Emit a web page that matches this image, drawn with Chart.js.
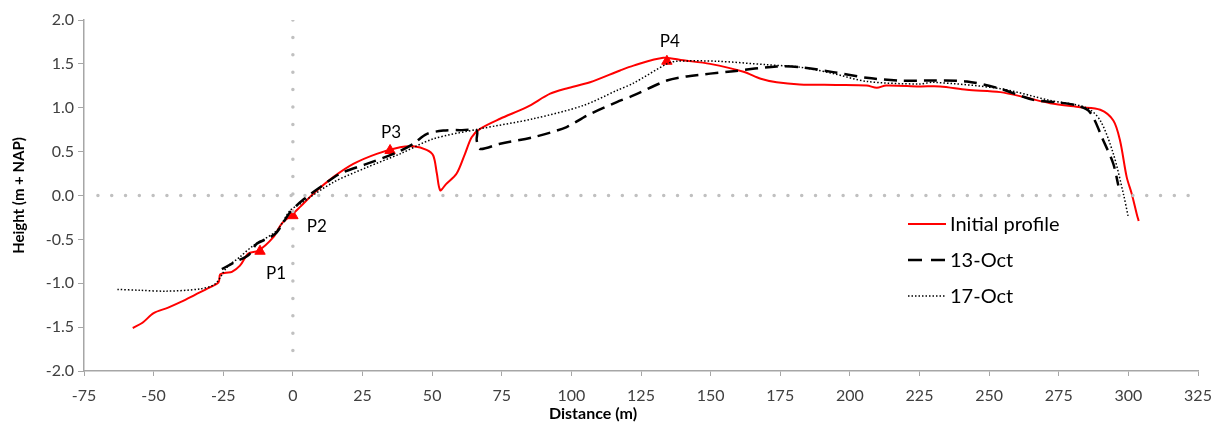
<!DOCTYPE html>
<html>
<head>
<meta charset="utf-8">
<script src="https://cdn.jsdelivr.net/npm/chart.js@4.4.1/dist/chart.umd.min.js"></script>
<style>
  html, body { margin: 0; padding: 0; background: #fff; }
  #wrap { width: 1223px; height: 425px; position: relative; }
</style>
</head>
<body>
<div id="wrap"><canvas id="chart" width="1223" height="425"></canvas></div>
<script>
// profile data (distance m, height m+NAP)
const initialX = [-57.5, -54, -50, -45, -40, -35, -30, -26.7, -26.1, -24, -21.9, -19, -16, -12.4, -7, -4, 0, 2.6, 8, 14.5, 21.7, 30.1, 38.5, 43.3, 48, 50.4, 51.7, 52.9, 55, 58.8, 61.8, 64.2, 67.2, 74.4, 84, 92.4, 98.3, 106.7, 117.5, 122.3, 133, 140.2, 149.8, 161.8, 168, 173.7, 182, 195, 206, 209.7, 213, 225, 232.4, 242, 254, 263.5, 271.9, 282.7, 289.9, 294.6, 297, 299.4, 301.2, 303, 303.7];
const initialY = [-1.51, -1.45, -1.34, -1.28, -1.21, -1.13, -1.05, -0.99, -0.90, -0.88, -0.87, -0.80, -0.66, -0.63, -0.475, -0.32, -0.21, -0.13, 0.04, 0.21, 0.36, 0.475, 0.55, 0.56, 0.52, 0.456, 0.25, 0.06, 0.13, 0.25, 0.475, 0.665, 0.76, 0.875, 1.007, 1.16, 1.22, 1.29, 1.425, 1.48, 1.57, 1.54, 1.50, 1.41, 1.33, 1.29, 1.266, 1.26, 1.254, 1.228, 1.254, 1.243, 1.243, 1.205, 1.178, 1.114, 1.052, 1.007, 0.977, 0.855, 0.627, 0.209, 0.02, -0.21, -0.29];

const oct13X = [-25.5, -21, -16, -13, -9, -5.8, -1, 4, 9.8, 17, 26.5, 37.3, 43.3, 48, 54, 60, 66, 66, 67.2, 74.4, 86.4, 98.3, 105.5, 116.3, 122.3, 134.3, 141.4, 158.2, 173.7, 182, 194, 206, 218, 230, 242, 254, 265.9, 275, 281.5, 286.2, 291, 294.6, 296.4];
const oct13Y = [-0.84, -0.76, -0.68, -0.55, -0.49, -0.42, -0.19, -0.04, 0.095, 0.25, 0.36, 0.49, 0.59, 0.70, 0.74, 0.745, 0.74, 0.63, 0.53, 0.59, 0.665, 0.78, 0.91, 1.064, 1.14, 1.31, 1.357, 1.417, 1.47, 1.463, 1.406, 1.342, 1.31, 1.31, 1.30, 1.217, 1.09, 1.06, 1.026, 0.95, 0.627, 0.36, 0.114];

const oct17X = [-63, -55, -45.3, -33.3, -27.9, -23.7, -19, -14.2, -5.8, -1, 2.6, 14.5, 26.5, 38.5, 50.4, 67.2, 86.4, 104.3, 116.3, 122.3, 134.3, 137.8, 152.2, 170.2, 182, 194, 206, 225, 230, 254, 271.9, 285, 289.9, 294.6, 298.2, 300];
const oct17Y = [-1.07, -1.08, -1.09, -1.064, -1.007, -0.82, -0.70, -0.57, -0.40, -0.17, -0.095, 0.15, 0.32, 0.475, 0.645, 0.76, 0.875, 1.026, 1.197, 1.28, 1.50, 1.53, 1.53, 1.49, 1.463, 1.39, 1.30, 1.27, 1.29, 1.217, 1.083, 1.0, 0.855, 0.475, 0.02, -0.25];

const pointNames = ['P1', 'P2', 'P3', 'P4'];
const pointX = [-11.8, 0, 34.9, 134.3];
const pointY = [-0.635, -0.23, 0.513, 1.53];

const xTicksMin = -75, xTicksMax = 325, xStep = 25;
const yTicksMin = -2, yTicksMax = 2, yStep = 0.5;

const zip = (xs, ys) => xs.map((x, i) => ({ x, y: ys[i] }));

const FONT = 'Lato, "Open Sans", sans-serif';

// label offsets next to the triangles (px)
const labelOffsets = { P1: [16, 22], P2: [24, 11], P3: [1, -18], P4: [3, -20] };

const labelPlugin = {
  id: 'pLabels',
  afterDatasetsDraw(chart) {
    const ctx = chart.ctx;
    const meta = chart.getDatasetMeta(5);
    ctx.save();
    ctx.font = '17px ' + FONT;
    ctx.fillStyle = '#000';
    ctx.textAlign = 'center';
    ctx.textBaseline = 'middle';
    meta.data.forEach((pt, i) => {
      const off = labelOffsets[pointNames[i]];
      ctx.fillText(pointNames[i], pt.x + off[0], pt.y + off[1]);
    });
    ctx.restore();
  }
};

const legendPlugin = {
  id: 'boxLegend',
  afterDraw(chart) {
    const ctx = chart.ctx;
    const items = [
      { label: 'Initial profile', color: '#ff0000', width: 2, dash: [] },
      { label: '13-Oct', color: '#000', width: 2.5, dash: [14, 9] },
      { label: '17-Oct', color: '#000', width: 1.5, dash: [1.5, 2] }
    ];
    const x0 = 908, y0 = 224, rowH = 36;
    ctx.save();
    ctx.font = '20px ' + FONT;
    ctx.textBaseline = 'middle';
    items.forEach((it, i) => {
      const y = y0 + i * rowH;
      ctx.beginPath();
      ctx.setLineDash(it.dash);
      ctx.strokeStyle = it.color;
      ctx.lineWidth = it.width;
      ctx.moveTo(x0, y);
      ctx.lineTo(x0 + 38, y);
      ctx.stroke();
      ctx.setLineDash([]);
      ctx.fillStyle = '#000';
      ctx.fillText(it.label, x0 + 42, y + 1);
    });
    // x axis title
    ctx.font = 'bold 16px ' + FONT;
    ctx.textAlign = 'center';
    ctx.fillText('Distance (m)', 593, 414);
    ctx.restore();
  }
};

new Chart(document.getElementById('chart'), {
  type: 'scatter',
  data: {
    datasets: [
      { label: 'zeroH', data: [{ x: -70, y: 0 }, { x: 325, y: 0 }], showLine: true, borderColor: '#c0c0c0', borderWidth: 3.5, borderDash: [0, 13.8], borderCapStyle: 'round', pointRadius: 0 },
      { label: 'zeroV', data: [{ x: 0, y: 2 }, { x: 0, y: -1.82 }], showLine: true, borderColor: '#c0c0c0', borderWidth: 3.5, borderDash: [0, 17.4], borderCapStyle: 'round', pointRadius: 0 },
      { label: '17-Oct', data: zip(oct17X, oct17Y), showLine: true, borderColor: '#000', borderWidth: 1.5, borderDash: [1.5, 2], tension: 0.3, pointRadius: 0 },
      { label: '13-Oct', data: zip(oct13X, oct13Y), showLine: true, borderColor: '#000', borderWidth: 2.5, borderDash: [13, 7], tension: 0.3, pointRadius: 0 },
      { label: 'Initial profile', data: zip(initialX, initialY), showLine: true, borderColor: '#ff0000', borderWidth: 2, tension: 0.3, pointRadius: 0 },
      { label: 'points', data: zip(pointX, pointY), showLine: false, pointStyle: 'triangle', pointRadius: 6, backgroundColor: '#ff0000', borderColor: '#ff0000', borderWidth: 1 }
    ]
  },
  options: {
    responsive: false,
    animation: false,
    layout: { padding: { top: 20, right: 25, left: 0, bottom: 0 } },
    plugins: { legend: { display: false }, tooltip: { enabled: false } },
    scales: {
      x: {
        type: 'linear', min: xTicksMin, max: xTicksMax,
        afterFit: (s) => { s.height = 54; },
        ticks: { stepSize: xStep, color: '#404040', font: { family: FONT, size: 16 }, padding: 10, maxRotation: 0 },
        grid: { drawOnChartArea: false, tickLength: 5, color: '#a6a6a6' },
        border: { color: '#a6a6a6', width: 1.5 }
      },
      y: {
        min: yTicksMin, max: yTicksMax,
        afterFit: (s) => { s.width = 84; },
        ticks: { stepSize: yStep, color: '#404040', font: { family: FONT, size: 16 }, padding: 4, callback: (v) => v.toFixed(1) },
        grid: { drawOnChartArea: false, tickLength: 6, color: '#a6a6a6' },
        border: { color: '#a6a6a6', width: 1.5 },
        title: { display: true, text: 'Height (m + NAP)', color: '#000', font: { family: FONT, size: 15, weight: 'bold' }, padding: { top: 10, bottom: 0 } }
      }
    }
  },
  plugins: [labelPlugin, legendPlugin]
});
</script>
</body>
</html>
